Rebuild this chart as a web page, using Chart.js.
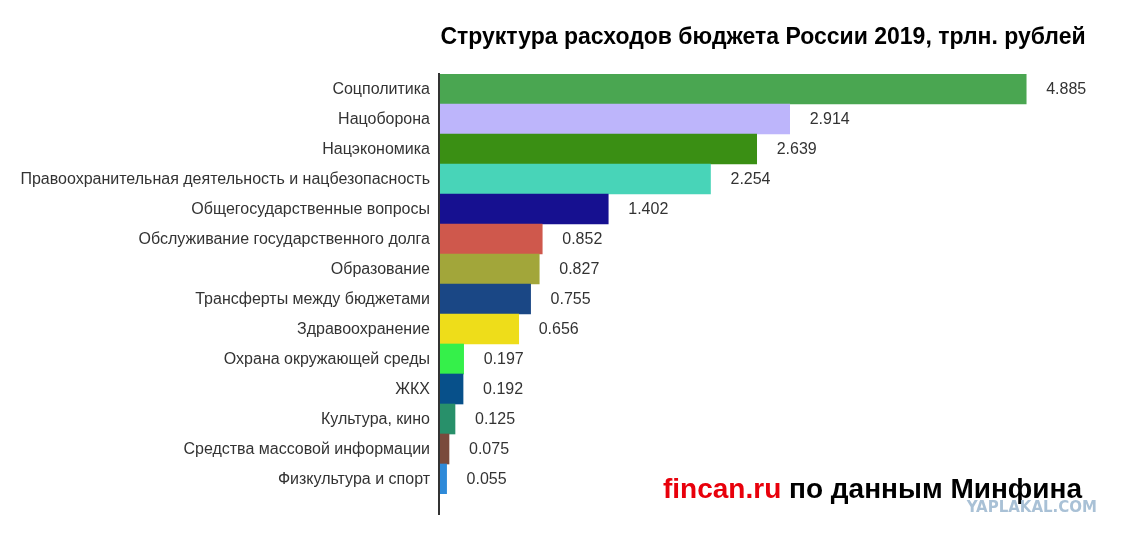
<!DOCTYPE html>
<html>
<head>
<meta charset="utf-8">
<script src="https://cdn.jsdelivr.net/npm/chart.js@4"></script>
<style>
  body { margin: 0; background: #fff; }
  #wrap { width: 1123px; height: 538px; }
</style>
</head>
<body>
<div id="wrap"><canvas id="bars"></canvas></div>
<script>
const categories = [
  "Соцполитика", "Нацоборона", "Нацэкономика",
  "Правоохранительная деятельность и нацбезопасность",
  "Общегосударственные вопросы", "Обслуживание государственного долга",
  "Образование", "Трансферты между бюджетами", "Здравоохранение",
  "Охрана окружающей среды", "ЖКХ", "Культура, кино",
  "Средства массовой информации", "Физкультура и спорт"
];
const spending = [4.885, 2.914, 2.639, 2.254, 1.402, 0.852, 0.827, 0.755, 0.656, 0.197, 0.192, 0.125, 0.075, 0.055];
const barColors = [
  "#4aa651", "#bdb5fb", "#3a8f14", "#48d4b8", "#161090", "#cf584c", "#a2a63a",
  "#1a4785", "#eedd1a", "#35f04a", "#07508a", "#28906a", "#7a4a3c", "#2e8ad9"
];

const ctx = document.getElementById("bars").getContext("2d");

// value text right of each bar + long axis line + title and source line
const extras = {
  id: "extras",
  afterDatasetsDraw: (chart) => {
    const {ctx, chartArea} = chart;
    const meta = chart.getDatasetMeta(0);
    ctx.save();
    ctx.font = "16px 'Liberation Sans', Arial, sans-serif";
    ctx.fillStyle = "#333";
    ctx.textAlign = "left";
    ctx.textBaseline = "middle";
    meta.data.forEach((bar, i) => {
      ctx.fillText(spending[i].toFixed(3), bar.x + 20, bar.y + 1);
    });

    ctx.strokeStyle = "#333";
    ctx.lineWidth = 2;
    ctx.beginPath();
    ctx.moveTo(chartArea.left - 1, chartArea.top - 1);
    ctx.lineTo(chartArea.left - 1, chartArea.bottom + 21);
    ctx.stroke();

    ctx.fillStyle = "#000";
    ctx.textAlign = "center";
    ctx.font = "bold 23px 'Liberation Sans', Arial, sans-serif";
    ctx.fillText("Структура расходов бюджета России 2019, трлн. рублей", 763, 38);

    ctx.textAlign = "left";
    ctx.font = "bold 28px 'Liberation Sans', Arial, sans-serif";
    ctx.fillStyle = "#e8000b";
    ctx.fillText("fincan.ru", 663, 490);
    const w = ctx.measureText("fincan.ru ").width;
    ctx.fillStyle = "#000";
    ctx.fillText("по данным Минфина", 663 + w, 490);

    ctx.font = "bold 15px 'DejaVu Sans', sans-serif";
    ctx.fillStyle = "#a9c1d6";
    ctx.textAlign = "right";
    ctx.fillText("YAPLAKAL.COM", 1097, 508);
    ctx.restore();
  }
};

new Chart(ctx, {
  type: "bar",
  data: {
    labels: categories,
    datasets: [{
      data: spending,
      backgroundColor: barColors,
      categoryPercentage: 1,
      barPercentage: 1,
      borderWidth: 0
    }]
  },
  plugins: [extras],
  options: {
    indexAxis: "y",
    responsive: true,
    maintainAspectRatio: false,
    animation: false,
    layout: {
      padding: { top: 74, bottom: 44, left: 0, right: 83 }
    },
    plugins: {
      legend: { display: false },
      tooltip: { enabled: false }
    },
    scales: {
      x: {
        display: false,
        min: 0,
        max: 5
      },
      y: {
        grid: { display: false },
        border: { display: false },
        afterFit: (scale) => { scale.width = 440; },
        ticks: {
          padding: 2,
          labelOffset: 1,
          color: "#333",
          font: { size: 16, family: "'Liberation Sans', Arial, sans-serif" }
        }
      }
    }
  }
});
</script>
</body>
</html>
